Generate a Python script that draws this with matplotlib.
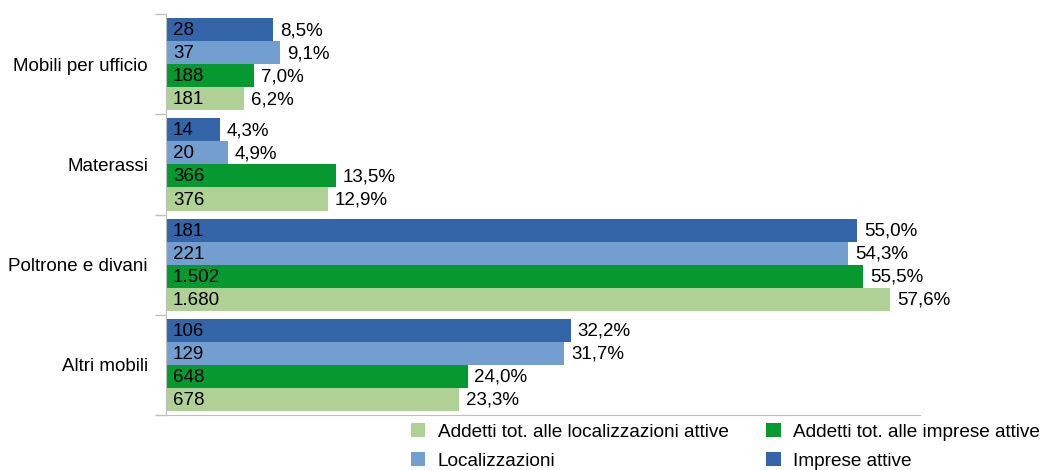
import matplotlib.pyplot as plt
import numpy as np

plt.rcParams['font.family'] = ['Liberation Sans', 'DejaVu Sans']

# categories from top to bottom
categories = ['Mobili per ufficio', 'Materassi', 'Poltrone e divani', 'Altri mobili']

# series, in the order they are stacked inside each group (top first)
series = ['Imprese attive', 'Localizzazioni',
          'Addetti tot. alle imprese attive',
          'Addetti tot. alle localizzazioni attive']
counts = [
    ['28', '14', '181', '106'],
    ['37', '20', '221', '129'],
    ['188', '366', '1.502', '648'],
    ['181', '376', '1.680', '678'],
]
shares = [
    [8.5, 4.3, 55.0, 32.2],
    [9.1, 4.9, 54.3, 31.7],
    [7.0, 13.5, 55.5, 24.0],
    [6.2, 12.9, 57.6, 23.3],
]
colors = ['#3465a8', '#729fcf', '#05992f', '#b0d196']

fig = plt.figure(figsize=(10.46, 4.70), dpi=100)
ax = fig.add_axes([0.1587, 0.117, 0.7208, 0.853])

bar_h = 0.23
n = len(series)
centers = np.arange(len(categories))
handles = {}
for i, name in enumerate(series):
    offset = (i - (n - 1) / 2) * bar_h
    ypos = centers + offset
    bars = ax.barh(ypos, shares[i], height=bar_h, color=colors[i], label=name)
    handles[name] = bars
    for y, val, cnt in zip(ypos, shares[i], counts[i]):
        ax.text(0.55, y + 0.01, cnt, va='center', ha='left', fontsize=13.5)
        ax.text(val + 0.55, y + 0.01, f'{val:.1f}'.replace('.', ',') + '%',
                va='center', ha='left', fontsize=13.5)

ax.set_xlim(0, 60)
ax.set_ylim(len(categories) - 0.5, -0.5)
ax.set_yticks(centers)
ax.set_yticklabels(categories, fontsize=13.5)
ax.tick_params(axis='y', which='major', length=0, pad=13)
ax.set_yticks(np.arange(len(categories) + 1) - 0.5, minor=True)
ax.tick_params(axis='y', which='minor', length=8, color='#bfbfbf', width=1)
ax.set_xticks([])

for side in ['top', 'right']:
    ax.spines[side].set_visible(False)
ax.spines['left'].set_color('#bfbfbf')
ax.spines['bottom'].set_color('#bfbfbf')

order = ['Addetti tot. alle localizzazioni attive', 'Localizzazioni',
         'Addetti tot. alle imprese attive', 'Imprese attive']
fig.legend([handles[k] for k in order], order, ncol=2, loc='upper left',
           bbox_to_anchor=(0.393, 0.100), frameon=False, fontsize=13.7,
           borderpad=0, borderaxespad=0,
           handlelength=0.74, handleheight=0.74, handletextpad=0.65,
           columnspacing=2.0, labelspacing=0.62)

fig.savefig('out.png', dpi=100)
